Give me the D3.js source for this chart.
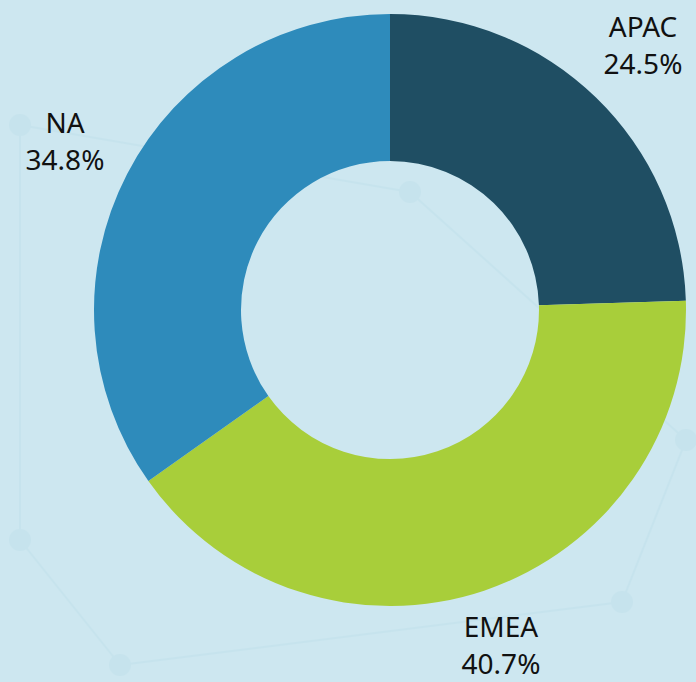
<!DOCTYPE html>
<html>
<head>
<meta charset="utf-8">
<script src="https://cdn.jsdelivr.net/npm/d3@7"></script>
<style>
  html, body { margin: 0; padding: 0; background: #cde7f0; }
  svg { display: block; }
</style>
</head>
<body>
<svg id="chart"></svg>
<script>
const width = 696;
const height = 682;

const regions = ["APAC", "EMEA", "NA"];
const shares = [24.5, 40.7, 34.8];
const colors = ["#1f4e63", "#a8ce3a", "#2e8bbb"];

const svg = d3.select("#chart").attr("width", width).attr("height", height);

// faint network pattern in the background
const bg = svg.append("g").attr("opacity", 0.3);
const nodes = [[20, 540], [120, 665], [410, 192], [622, 602], [20, 125], [686, 440]];
const links = [[0, 1], [0, 4], [1, 3], [2, 4], [2, 5], [3, 5]];
bg.selectAll("line").data(links).enter().append("line")
  .attr("x1", d => nodes[d[0]][0]).attr("y1", d => nodes[d[0]][1])
  .attr("x2", d => nodes[d[1]][0]).attr("y2", d => nodes[d[1]][1])
  .attr("stroke", "#b8dde8").attr("stroke-width", 2);
bg.selectAll("circle").data(nodes).enter().append("circle")
  .attr("cx", d => d[0]).attr("cy", d => d[1]).attr("r", 11)
  .attr("fill", "#b8dde8");

const cx = 390, cy = 310;
const outer = 296, inner = 149;

const pie = d3.pie().sort(null).value(d => d);
const arc = d3.arc().innerRadius(inner).outerRadius(outer);

const g = svg.append("g").attr("transform", `translate(${cx},${cy})`);

g.selectAll("path")
  .data(pie(shares))
  .enter()
  .append("path")
  .attr("d", arc)
  .attr("fill", (d, i) => colors[i]);

// label anchors relative to centre
const labelPos = [[253, -273], [111, 327], [-325, -177]];

const labels = svg.append("g")
  .attr("font-family", "'Noto Sans', 'Open Sans', sans-serif")
  .attr("font-size", 28)
  .attr("fill", "#111")
  .attr("text-anchor", "middle");

regions.forEach((r, i) => {
  const t = labels.append("text")
    .attr("x", cx + labelPos[i][0])
    .attr("y", cy + labelPos[i][1]);
  t.append("tspan").attr("x", cx + labelPos[i][0]).text(r);
  t.append("tspan").attr("x", cx + labelPos[i][0]).attr("dy", 37).text(shares[i].toFixed(1) + "%");
});
</script>
</body>
</html>
